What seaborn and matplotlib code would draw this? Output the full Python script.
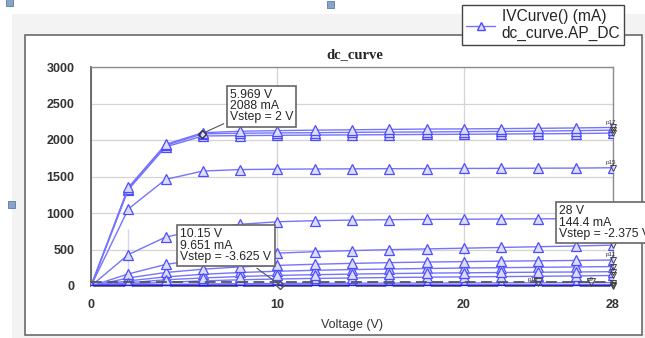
import numpy as np
import pandas as pd
import matplotlib.pyplot as plt
import seaborn as sns
from matplotlib.patches import Rectangle
from matplotlib.lines import Line2D

# sweep voltage (V)
voltage = [0, 2, 4, 6, 8, 10, 12, 14, 16, 18, 20, 22, 24, 26, 28]

# drain current per Vstep curve (mA)
curve_p17 = [0, 1350, 1940, 2100, 2120, 2128, 2135, 2140, 2145, 2150, 2152, 2156, 2160, 2165, 2172]
curve_p16 = [0, 1335, 1925, 2085, 2092, 2097, 2100, 2105, 2108, 2110, 2114, 2118, 2122, 2128, 2135]
curve_p14 = [0, 1320, 1905, 2055, 2060, 2064, 2067, 2070, 2073, 2076, 2079, 2082, 2085, 2088, 2095]
curve_p15 = [0, 1055, 1460, 1575, 1595, 1600, 1603, 1605, 1607, 1608, 1610, 1612, 1614, 1615, 1620]
curve_p13 = [0, 430, 670, 780, 845, 880, 895, 903, 908, 912, 915, 918, 920, 922, 925]
curve_p12 = [0, 165, 295, 370, 420, 450, 470, 485, 498, 508, 518, 528, 538, 548, 560]
curve_p11 = [0, 110, 185, 230, 262, 282, 298, 310, 320, 328, 334, 340, 345, 350, 356]
curve_p10 = [0, 70, 125, 160, 185, 202, 215, 225, 233, 240, 246, 251, 256, 261, 266]
curve_p8 = [0, 45, 85, 110, 130, 145, 155, 163, 170, 176, 181, 185, 189, 192, 196]
curve_p7 = [0, 25, 50, 70, 85, 96, 104, 110, 116, 121, 125, 129, 133, 138, 144]
curve_p6 = [0, 12, 22, 28, 32, 35, 37, 39, 40, 41, 42, 43, 44, 45, 46]
curve_p5 = [0, 5, 8, 9, 9, 10, 10, 10, 10, 11, 11, 11, 11, 11, 12]
curve_p4 = [0, 1, 2, 2, 2, 2, 2, 2, 2, 2, 2, 3, 3, 3, 3]
dashed_ref = [58, 58, 58, 58, 58, 58, 58, 58, 58, 58, 58, 58, 58, 58, 58]

curves = {
    "p17": curve_p17, "p16": curve_p16, "p14": curve_p14, "p15": curve_p15,
    "p13": curve_p13, "p12": curve_p12, "p11": curve_p11, "p10": curve_p10,
    "p8": curve_p8, "p7": curve_p7, "p6": curve_p6, "p5": curve_p5, "p4": curve_p4,
}

rows = []
for name, vals in curves.items():
    for v, i in zip(voltage, vals):
        rows.append({"curve": name, "V": v, "I": i})
df = pd.DataFrame(rows)

sns.set_style("white")
plt.rcParams["font.family"] = ["Liberation Sans", "DejaVu Sans"]

fig = plt.figure(figsize=(6.45, 3.38), dpi=100)
W, H = 645, 338

# window-like background and frame
fig.patches.append(Rectangle((12 / W, 0), 633 / W, 1 - 14 / H, transform=fig.transFigure,
                             facecolor="#f3f3f3", edgecolor="none", zorder=-3))
fig.patches.append(Rectangle((25 / W, 3 / H), 617 / W, 1 - 38 / H, transform=fig.transFigure,
                             facecolor="white", edgecolor="#6a6a6a", lw=1.2, zorder=-2))
for hx, hy in [(6, 332), (327, 330), (8, 130)]:
    fig.patches.append(Rectangle((hx / W, hy / H), 7 / W, 7 / H, transform=fig.transFigure,
                                 facecolor="#8aa4c8", edgecolor="#5a78a8", lw=0.6))

ax = fig.add_axes([91 / W, 1 - 286 / H, 522 / W, 219 / H])

line_col = "#7474ff"
mark_col = "#4c4cff"
sns.lineplot(data=df, x="V", y="I", units="curve", estimator=None, ax=ax,
             color=line_col, lw=1.0, marker="^", markersize=7,
             markerfacecolor="#dcdcff", markeredgecolor=mark_col, markeredgewidth=0.9,
             legend=False, zorder=3)

# vertical trace at V = 2 through the step values
step_vals = sorted(v[1] for v in curves.values())
sns.lineplot(x=[2] * len(step_vals), y=step_vals, ax=ax, color="#2a2aff", lw=1.8,
             sort=False, legend=False, zorder=4)
# dark baseline of the lowest curves
sns.lineplot(x=voltage, y=curve_p4, ax=ax, color="#2020d0", lw=1.8, legend=False, zorder=4)
sns.lineplot(x=voltage, y=dashed_ref, ax=ax, color="#555555", lw=1.3,
             linestyle=(0, (6, 3)), legend=False, zorder=5)

# end markers with small labels
for name, vals in curves.items():
    ax.plot(28, vals[-1], marker="v", ms=5, mfc="none", mec="#444444", mew=0.7,
            clip_on=False, zorder=6)
for name in ["p17", "p15", "p12", "p11"]:
    ax.text(27.6, curves[name][-1] + 40, name, fontsize=4.5, color="#333333",
            ha="left", va="bottom", zorder=7)
ax.plot(24, 60, marker="v", ms=6, mfc="none", mec="#444444", mew=0.7, zorder=6)
ax.text(23.4, 75, "p18", fontsize=4.5, color="#333333")
ax.plot(26.8, 50, marker="v", ms=6, mfc="none", mec="#444444", mew=0.7, zorder=6)
ax.text(26.6, 70, "p9", fontsize=4.5, color="#333333")

ax.set_xlim(0, 28)
ax.set_ylim(0, 3000)
ax.set_xticks([0, 10, 20, 28])
ax.set_yticks(np.arange(0, 3001, 500))
ax.tick_params(axis="y", length=0, labelsize=9, pad=12)
ax.tick_params(axis="x", length=0, labelsize=9, pad=9)
for lab in ax.get_xticklabels() + ax.get_yticklabels():
    lab.set_fontweight("bold")
    lab.set_color("#333333")
ax.grid(True, color="#d4d4d4", lw=0.9)
for side in ["left", "bottom"]:
    ax.spines[side].set_color("#555555")
    ax.spines[side].set_linewidth(1.2)
for side in ["top", "right"]:
    ax.spines[side].set_color("#8c8c8c")
    ax.spines[side].set_linewidth(1.0)
ax.set_xlabel("Voltage (V)", fontsize=9, color="#333333", labelpad=6)
ax.set_ylabel("")

fig.text(355 / W, 1 - 55 / H, "dc_curve", ha="center", va="center", fontsize=10.5,
         fontweight="bold", family=["Liberation Serif", "DejaVu Serif"])

# marker readouts
box = dict(boxstyle="square,pad=0.25", fc="white", ec="#666666", lw=1.2)
arrow = dict(arrowstyle="-", color="#555555", lw=0.8)
ax.annotate("5.969 V\n2088 mA\nVstep = 2 V", xy=(5.969, 2088), xytext=(7.45, 2700),
            fontsize=8.8, va="top", ha="left", linespacing=0.92, bbox=box,
            arrowprops=arrow, zorder=8)
ax.annotate("10.15 V\n9.651 mA\nVstep = -3.625 V", xy=(10.15, 9.651), xytext=(4.8, 790),
            fontsize=8.8, va="top", ha="left", linespacing=0.92, bbox=box,
            arrowprops=arrow, zorder=8)
ax.plot(10.15, 9.651, marker="D", ms=4, mfc="none", mec="#555555", clip_on=False, zorder=8)
ax.plot(5.969, 2088, marker="D", ms=4, mfc="none", mec="#333333", zorder=8)
ax.annotate("28 V\n144.4 mA\nVstep = -2.375 V", xy=(28, 144.4), xytext=(25.1, 1105),
            fontsize=8.8, va="top", ha="left", linespacing=0.92, bbox=box,
            annotation_clip=False, zorder=8)

# legend box
handle = Line2D([], [], color=line_col, lw=1.0, marker="^", ms=6,
                mfc="#dcdcff", mec=mark_col)
leg = fig.legend([handle], ["IVCurve() (mA)\ndc_curve.AP_DC"], loc="upper left",
                 bbox_to_anchor=(462 / W, 1 - 5 / H), borderaxespad=0, fontsize=11.2,
                 frameon=True, fancybox=False, handlelength=1.9, handletextpad=0.4,
                 borderpad=0.25, labelspacing=0.2)
leg.get_frame().set_edgecolor("#444444")
leg.get_frame().set_linewidth(1.0)
leg.get_frame().set_facecolor("white")
leg.get_frame().set_alpha(1)

fig.savefig("out.png", dpi=100)
